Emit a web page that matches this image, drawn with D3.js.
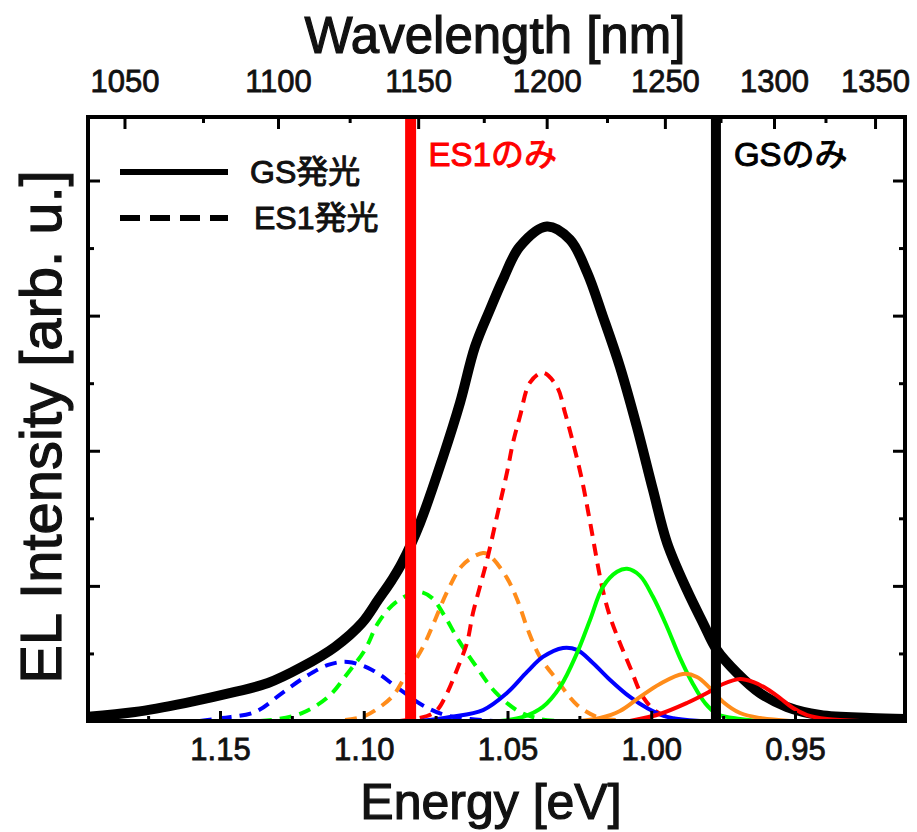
<!DOCTYPE html>
<html><head><meta charset="utf-8">
<script src="https://cdn.jsdelivr.net/npm/d3@7"></script>
<style>body{margin:0;background:#fff}svg{display:block}</style>
</head><body><svg id="c" width="917" height="832"></svg>
<script>
// ---- data ----
const energyTicks = [1.15, 1.10, 1.05, 1.00, 0.95];
const energyMinorTicks = [1.175, 1.125, 1.075, 1.025, 0.975, 0.925];
const wavelengthTicks = [1050, 1100, 1150, 1200, 1250, 1300, 1350];
const wavelengthMinorTicks = [1075, 1125, 1175, 1225, 1275, 1325];
const intensityTicks = [1, 2, 3, 4];
const intensityMinorTicks = [0.5, 1.5, 2.5, 3.5];

// [energy eV, intensity]
const gsTotal = [[1.1970,0.03],[1.1796,0.067],[1.1622,0.133],[1.1448,0.215],[1.1333,0.281],[1.1215,0.40],[1.1100,0.548],[1.1006,0.726],[1.0950,0.896],[1.0902,1.044],[1.0867,1.170],[1.0804,1.467],[1.0724,1.956],[1.0665,2.356],[1.0613,2.770],[1.0561,3.044],[1.0516,3.267],[1.0457,3.511],[1.0363,3.659],[1.0283,3.563],[1.0223,3.319],[1.0168,2.993],[1.0109,2.622],[1.0050,2.178],[0.9994,1.711],[0.9945,1.319],[0.9876,0.970],[0.9820,0.726],[0.9772,0.526],[0.9702,0.356],[0.9622,0.207],[0.9528,0.104],[0.9413,0.044],[0.9239,0.022],[0.9117,0.015]];

const es1Blue = [[1.157,0],[1.1493,0.022],[1.1378,0.067],[1.1284,0.207],[1.1204,0.326],[1.1124,0.415],[1.1055,0.437],[1.0971,0.378],[1.0881,0.244],[1.0797,0.119],[1.0717,0.044],[1.0630,0.015],[1.055,0]];
const es1Green = [[1.1361,0],[1.1319,0.007],[1.1215,0.059],[1.1124,0.178],[1.1055,0.356],[1.0996,0.526],[1.0950,0.726],[1.0891,0.874],[1.0811,0.956],[1.0763,0.911],[1.0721,0.785],[1.0669,0.593],[1.0610,0.407],[1.0543,0.215],[1.0463,0.074],[1.0387,0.015],[1.0317,0]];
const es1Orange = [[1.1065,0.007],[1.0996,0.037],[1.0902,0.178],[1.0863,0.304],[1.0794,0.548],[1.0752,0.748],[1.0707,0.970],[1.0655,1.156],[1.0585,1.244],[1.0561,1.222],[1.0502,1.059],[1.0463,0.881],[1.0429,0.674],[1.0387,0.474],[1.0328,0.304],[1.0258,0.119],[1.0178,0.022],[1.0109,0.007]];
const es1Red = [[1.0874,0],[1.0780,0.037],[1.0745,0.081],[1.0710,0.207],[1.0672,0.400],[1.0641,0.578],[1.0620,0.800],[1.0596,0.993],[1.0571,1.193],[1.0537,1.511],[1.0502,1.837],[1.0481,2.059],[1.0457,2.252],[1.0422,2.504],[1.0377,2.578],[1.0328,2.474],[1.0300,2.281],[1.0272,2.059],[1.0241,1.785],[1.0213,1.474],[1.0171,0.993],[1.0143,0.770],[1.0109,0.578],[1.0074,0.400],[1.0029,0.178],[0.9980,0.067],[0.9917,0.015],[0.9865,0]];

const gsBlue = [[1.0804,0],[1.0700,0.030],[1.0585,0.081],[1.0502,0.207],[1.0432,0.363],[1.0377,0.474],[1.0307,0.541],[1.0258,0.526],[1.0203,0.430],[1.0143,0.304],[1.0074,0.178],[1.0015,0.096],[0.9945,0.030],[0.9830,0]];
const gsGreen = [[1.0526,0],[1.0446,0.030],[1.0377,0.104],[1.0317,0.252],[1.0258,0.504],[1.0213,0.748],[1.0168,0.993],[1.0119,1.104],[1.0084,1.126],[1.0039,1.074],[0.9994,0.919],[0.9945,0.696],[0.9900,0.467],[0.9855,0.274],[0.9813,0.133],[0.9771,0.052],[0.9691,0.015],[0.9622,0]];
const gsOrange = [[1.0248,0],[1.0178,0.022],[1.0109,0.074],[1.0039,0.178],[0.9970,0.274],[0.9890,0.348],[0.9841,0.326],[0.9796,0.244],[0.9750,0.141],[0.9691,0.059],[0.9622,0.022],[0.9517,0]];
const gsRed = [[1.0074,0],[0.9970,0.052],[0.9876,0.133],[0.9806,0.207],[0.9750,0.274],[0.9691,0.311],[0.9646,0.289],[0.9597,0.237],[0.9552,0.170],[0.9507,0.096],[0.9458,0.044],[0.9389,0.015],[0.9274,0]];

const markerEnergies = [1.0837, 0.9775];
const markerColors = ["#ff0000", "#000000"];
const markerLabels = ["ES1のみ", "GSのみ"];
const legendLabels = ["GS発光", "ES1発光"];

// ---- layout ----
const svg = d3.select("#c");
const L = 88, R = 905, T = 117, B = 721;
const x = d3.scaleLinear().domain([1.15, 0.95]).range([220, 795]);
const xTop = d3.scaleLinear().domain([1.15, 0.95]).range([213, 785]);
const y = d3.scaleLinear().domain([0, 4.47]).range([B, T]);
const FONT = "'Liberation Sans', Arial, 'Noto Sans CJK JP', sans-serif";
const heavy = (sel, col, w) => sel.attr("fill", col).attr("stroke", col).attr("stroke-width", w).attr("paint-order","stroke");

svg.append("defs").append("clipPath").attr("id","clip")
  .append("rect").attr("x",L).attr("y",T).attr("width",R-L).attr("height",B-T);

const plot = svg.append("g").attr("clip-path","url(#clip)");
const line = d3.line().x(d=>x(d[0])).y(d=>y(d[1])).curve(d3.curveCatmullRom.alpha(0.5));

plot.append("path").datum(gsTotal).attr("d",line)
  .attr("fill","none").attr("stroke","#000").attr("stroke-width",10).attr("stroke-linejoin","round");

const dashed = [[es1Blue,"#0000ff"],[es1Green,"#00ff00"],[es1Orange,"#ff8c1a"],[es1Red,"#ff0000"]];
const solid = [[gsBlue,"#0000ff"],[gsGreen,"#00ff00"],[gsOrange,"#ff8c1a"],[gsRed,"#ff0000"]];
dashed.forEach(([d,c])=>{
  plot.append("path").datum(d).attr("d",line).attr("fill","none")
    .attr("stroke",c).attr("stroke-width",4).attr("stroke-dasharray","12,8");
});
solid.forEach(([d,c])=>{
  plot.append("path").datum(d).attr("d",line).attr("fill","none")
    .attr("stroke",c).attr("stroke-width",4);
});

// vertical marker lines
plot.selectAll("line.mk").data(markerEnergies).enter().append("line")
  .attr("x1",d=>x(d)).attr("x2",d=>x(d)).attr("y1",T).attr("y2",B)
  .attr("stroke",(d,i)=>markerColors[i]).attr("stroke-width",(d,i)=>i===0?11:10);

// marker labels
svg.selectAll("text.mk").data(markerEnergies).enter().append("text")
  .attr("x",(d,i)=>x(d)+18).attr("y",166)
  .style("font-family",FONT).style("font-size","33px")
  .text((d,i)=>markerLabels[i])
  .each(function(d,i){ heavy(d3.select(this), markerColors[i], 1); });

// axes
function styleAxis(g){ g.select(".domain").remove(); g.selectAll("line").attr("stroke","#000").attr("stroke-width",3);
  g.selectAll("text").style("font-family",FONT).style("font-size","31px").call(heavy,"#111",0.8); }

svg.append("g").attr("transform",`translate(0,${B})`)
  .call(d3.axisBottom(x).tickValues(energyTicks).tickFormat(d3.format(".2f")).tickSize(-10).tickPadding(17)).call(styleAxis);
svg.append("g").attr("transform",`translate(0,${B})`)
  .call(d3.axisBottom(x).tickValues(energyMinorTicks).tickFormat("").tickSize(-5)).call(styleAxis);

svg.append("g").attr("transform",`translate(0,${T})`)
  .call(d3.axisTop(xTop).tickValues(wavelengthTicks.map(w=>1240/w)).tickFormat(d=>Math.round(1240/d)).tickSize(-12).tickPadding(25)).call(styleAxis);
svg.append("g").attr("transform",`translate(0,${T})`)
  .call(d3.axisTop(xTop).tickValues(wavelengthMinorTicks.map(w=>1240/w)).tickFormat("").tickSize(-6)).call(styleAxis);

[[L, d3.axisLeft],[R, d3.axisRight]].forEach(([pos,ax])=>{
  svg.append("g").attr("transform",`translate(${pos},0)`)
    .call(ax(y).tickValues(intensityTicks).tickFormat("").tickSize(-12)).call(styleAxis);
  svg.append("g").attr("transform",`translate(${pos},0)`)
    .call(ax(y).tickValues(intensityMinorTicks).tickFormat("").tickSize(-6)).call(styleAxis);
});

// frame
svg.append("rect").attr("x",L).attr("y",T).attr("width",R-L).attr("height",B-T)
  .attr("fill","none").attr("stroke","#000").attr("stroke-width",4);

// titles
svg.append("text").attr("x",495).attr("y",53).attr("text-anchor","middle")
  .style("font-family",FONT).style("font-size","51px").call(heavy,"#111",1.2).text("Wavelength [nm]");
svg.append("text").attr("x",491).attr("y",819).attr("text-anchor","middle")
  .style("font-family",FONT).style("font-size","50px").call(heavy,"#111",1.2).text("Energy [eV]");
svg.append("text").attr("transform","translate(61,427) rotate(-90)").attr("text-anchor","middle")
  .style("font-family",FONT).style("font-size","58px").call(heavy,"#111",1.2).text("EL Intensity [arb. u.]");

// legend
const leg = svg.append("g");
leg.selectAll("line").data(legendLabels).enter().append("line")
  .attr("x1",120).attr("x2",228).attr("y1",(d,i)=>172+i*46).attr("y2",(d,i)=>172+i*46)
  .attr("stroke","#000").attr("stroke-width",6).attr("stroke-dasharray",(d,i)=>i?"20,10":null);
leg.selectAll("text").data(legendLabels).enter().append("text")
  .attr("x",(d,i)=>250+i*4).attr("y",(d,i)=>183+i*46)
  .style("font-family",FONT).style("font-size","32px").call(heavy,"#111",1).text(d=>d);
</script></body></html>
